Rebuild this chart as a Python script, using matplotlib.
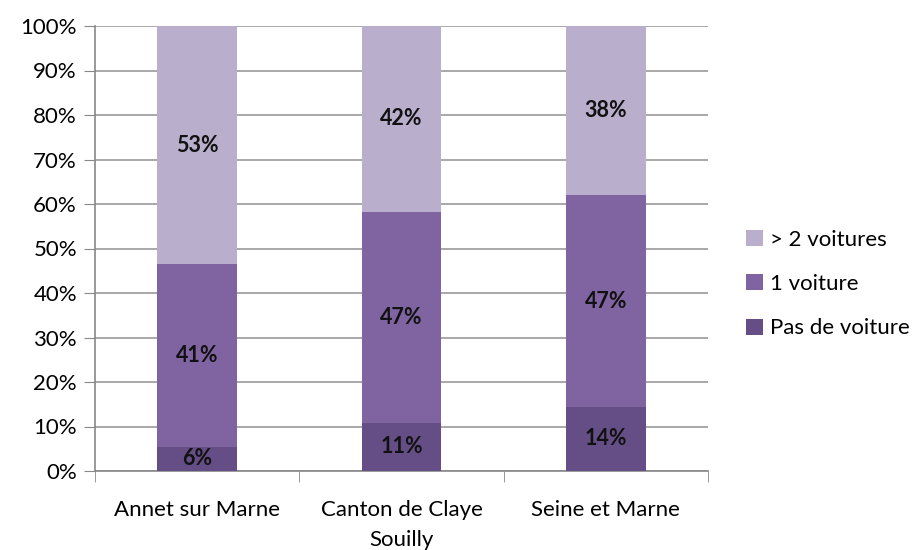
import matplotlib
matplotlib.use("Agg")
import matplotlib.pyplot as plt
import numpy as np

plt.rcParams['font.family'] = ['Lato', 'DejaVu Sans']

categories = ['Annet sur Marne', 'Canton de Claye\nSouilly', 'Seine et Marne']
series = ['Pas de voiture', '1 voiture', '> 2 voitures']
pas_de_voiture = [5.5, 10.8, 14.4]
une_voiture = [41.0, 47.5, 47.6]
deux_voitures = [53.5, 41.7, 38.0]
labels_pas = ['6%', '11%', '14%']
labels_une = ['41%', '47%', '47%']
labels_deux = ['53%', '42%', '38%']

colors = ['#654E85', '#8064A2', '#B9AECB']

fig = plt.figure(figsize=(9.23, 5.5), dpi=100)
ax = fig.add_axes([95 / 923, 79 / 550, 613 / 923, 445 / 550])

x = np.arange(len(categories))
w = 0.39
bottom = np.zeros(len(categories))
data = [pas_de_voiture, une_voiture, deux_voitures]
labs = [labels_pas, labels_une, labels_deux]
handles = []
for vals, lab, col, name in zip(data, labs, colors, series):
    vals = np.array(vals)
    b = ax.bar(x, vals, w, bottom=bottom, color=col, label=name, zorder=3)
    handles.append(b)
    for xi, v, bt, t in zip(x, vals, bottom, lab):
        ax.text(xi, bt + v / 2, t, ha='center', va='center', fontsize=15.5,
                fontweight='bold', color='#111111', zorder=4)
    bottom += vals

ax.set_xlim(-0.5, 2.5)
ax.set_ylim(0, 100)
ax.set_yticks(range(0, 101, 10))
ax.set_yticklabels([f'{v}%' for v in range(0, 101, 10)], fontsize=16)
ax.set_xticks(x)
ax.set_xticklabels(categories, fontsize=16, linespacing=1.6)
ax.tick_params(axis='x', length=0, pad=21)
ax.set_xticks([-0.5, 0.5, 1.5, 2.5], minor=True)
ax.tick_params(axis='x', which='minor', length=8, color='#888888', direction='out')
ax.tick_params(axis='y', length=8, color='#888888', direction='out', pad=5)
ax.yaxis.grid(True, color='#999999', linewidth=1.2, zorder=0)
ax.set_axisbelow(True)
for s in ['top', 'right']:
    ax.spines[s].set_visible(False)
for s in ['left', 'bottom']:
    ax.spines[s].set_color('#888888')
    ax.spines[s].set_linewidth(1.2)

fig.legend(handles[::-1], series[::-1], loc='center left', bbox_to_anchor=(746 / 923, 1 - 284 / 550),
           frameon=False, fontsize=16, handlelength=0.75, handleheight=0.75,
           handletextpad=0.35, labelspacing=1.1, borderaxespad=0, borderpad=0)

fig.savefig('out.png', dpi=100)
